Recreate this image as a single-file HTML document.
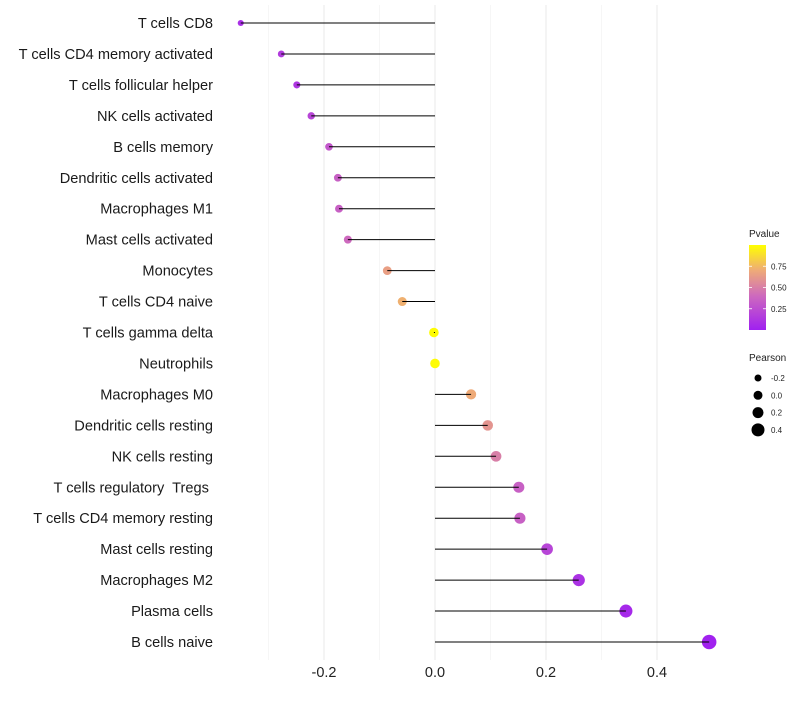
<!DOCTYPE html>
<html><head><meta charset="utf-8"><style>
body{margin:0;background:#fff;font-family:"Liberation Sans",sans-serif}
text{white-space:pre}
</style></head><body>
<svg id="c" width="800" height="700" xmlns="http://www.w3.org/2000/svg"></svg>
<script>
const categories=["T cells CD8","T cells CD4 memory activated","T cells follicular helper","NK cells activated","B cells memory","Dendritic cells activated","Macrophages M1","Mast cells activated","Monocytes","T cells CD4 naive","T cells gamma delta","Neutrophils","Macrophages M0","Dendritic cells resting","NK cells resting","T cells regulatory  Tregs ","T cells CD4 memory resting","Mast cells resting","Macrophages M2","Plasma cells","B cells naive"];
const pearson=[-0.35,-0.277,-0.249,-0.223,-0.191,-0.175,-0.173,-0.157,-0.086,-0.059,-0.002,0,0.065,0.095,0.11,0.151,0.153,0.202,0.259,0.344,0.494];
const pvalue=[0.08,0.15,0.12,0.2,0.3,0.35,0.35,0.4,0.65,0.72,0.99,0.99,0.7,0.6,0.5,0.35,0.35,0.2,0.1,0.05,0.01];
const xTicks=[-0.2,0.0,0.2,0.4];
const xTickLabels=["-0.2","0.0","0.2","0.4"];
const minorTicks=[-0.3,-0.1,0.1,0.3];
const legendSizes=[-0.2,0.0,0.2,0.4];
const legendP=[0.25,0.5,0.75];
const NS="http://www.w3.org/2000/svg";
const svg=document.getElementById('c');
function X(v){return 435+v*555;}
function Y(i){return 23+i*30.95;}
function R(v){return Math.max(1.6,3.8+(v+0.2)/0.6*3);}
function col(p){const stops=[[0,[160,32,240]],[0.4,[205,105,190]],[0.7,[238,170,120]],[1,[255,255,0]]];
 for(let k=1;k<stops.length;k++){if(p<=stops[k][0]){const a=stops[k-1],b=stops[k],t=(p-a[0])/(b[0]-a[0]);return 'rgb('+a[1].map((c,j)=>Math.round(c+(b[1][j]-c)*t)).join(',')+')';}}return 'rgb(255,255,0)';}
function el(t,a,p){const e=document.createElementNS(NS,t);for(const k in a)e.setAttribute(k,a[k]);(p||svg).appendChild(e);return e;}
minorTicks.forEach(v=>{const l=el('line',{x1:X(v),x2:X(v),y1:5,y2:660,stroke:'#f2f2f2','stroke-width':0.7});

});
xTicks.forEach((v,i)=>{const l=el('line',{x1:X(v),x2:X(v),y1:5,y2:660,stroke:'#ebebeb','stroke-width':1.1});


const t=el('text',{x:X(v),y:677,'text-anchor':'middle','font-size':14.5,fill:'#222'});t.textContent=xTickLabels[i];

});
categories.forEach((c,i)=>{const y=Y(i);
 const t=el('text',{x:213,y:y+5,'text-anchor':'end','font-size':14.6,fill:'#1a1a1a'});t.textContent=c;
 
 
 const d=el('circle',{cx:X(pearson[i]),cy:y,r:R(pearson[i]),fill:col(pvalue[i])});
 
 
 const l=el('line',{x1:X(0),x2:X(pearson[i]),y1:y,y2:y,stroke:'#000','stroke-width':1});
 
 });
// legend
const defs=el('defs',{});const g=el('linearGradient',{id:'pg',x1:0,y1:1,x2:0,y2:0},defs);
[0,0.2,0.4,0.55,0.7,0.85,1].forEach(s=>el('stop',{offset:s,'stop-color':col(s)},g));
let t=el('text',{x:749,y:237,'font-size':10,fill:'#222'});t.textContent='Pvalue';


const bar=el('rect',{x:749,y:245,width:17,height:85,fill:'url(#pg)'});


legendP.forEach(p=>{const y=330-p*85;
 el('line',{x1:749,x2:752,y1:y,y2:y,stroke:'#fff','stroke-width':0.8});el('line',{x1:763,x2:766,y1:y,y2:y,stroke:'#fff','stroke-width':0.8});
 const tt=el('text',{x:771,y:y+3,'font-size':8,fill:'#222'});tt.textContent=p.toFixed(2);
 
 });
t=el('text',{x:749,y:361,'font-size':10,fill:'#222'});t.textContent='Pearson';


legendSizes.forEach((v,i)=>{const y=378+i*17.3;
 const c=el('circle',{cx:758,cy:y,r:3.5+(v+0.2)/0.6*3,fill:'#000'});
 
 
 const tt=el('text',{x:771,y:y+3,'font-size':8,fill:'#222'});tt.textContent=v.toFixed(1);
 
 });
</script>
</body></html>
